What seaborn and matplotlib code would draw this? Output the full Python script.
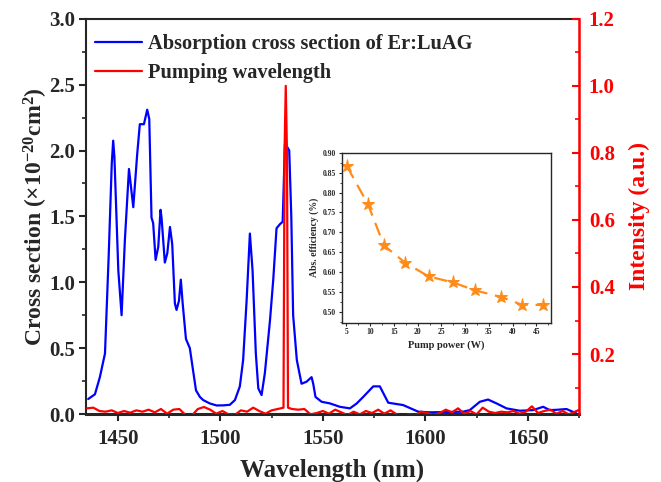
import matplotlib
matplotlib.use("Agg")
import matplotlib.pyplot as plt
from matplotlib.ticker import MultipleLocator, FixedLocator
import seaborn as sns

# absorption cross section of Er:LuAG (x1e-20 cm^2)
blue_wl = [1435.5, 1438.8, 1441.2, 1443.7, 1445.5, 1447.0, 1447.7, 1448.3, 1450.2, 1451.8,
           1453.4, 1455.4, 1457.5, 1459.4, 1460.7, 1462.7, 1464.3, 1465.3, 1466.4, 1467.2,
           1468.4, 1469.7, 1470.8, 1471.3, 1472.9, 1474.1, 1475.4, 1476.5, 1477.8, 1478.6,
           1479.8, 1480.7, 1481.6, 1483.2, 1485.1, 1486.4, 1488.1, 1490.0, 1491.6, 1494.9,
           1498.2, 1501.5, 1504.6, 1507.1, 1509.5, 1511.1, 1512.8, 1514.4, 1515.7, 1517.3,
           1518.5, 1520.1, 1521.7, 1524.2, 1525.8, 1527.4, 1529.0, 1530.4, 1531.5, 1532.5,
           1533.6, 1534.6, 1535.5, 1537.3, 1539.6, 1542.0, 1544.5, 1545.3, 1546.4, 1549.4,
           1553.4, 1558.3, 1563.2, 1566.5, 1569.7, 1574.6, 1577.8, 1581.9, 1589.2, 1596.5,
           1602.2, 1610.0, 1618.5, 1621.7, 1626.6, 1630.6, 1634.7, 1639.6, 1646.1, 1652.6,
           1657.5, 1660.7, 1664.0, 1668.9, 1673.7]
blue_cs = [0.114, 0.15, 0.28, 0.46, 1.2, 1.9, 2.075, 1.95, 1.09, 0.75,
           1.32, 1.86, 1.57, 1.97, 2.20, 2.20, 2.31, 2.24, 1.49, 1.45,
           1.17, 1.27, 1.55, 1.49, 1.15, 1.22, 1.42, 1.29, 0.84, 0.79,
           0.86, 1.02, 0.84, 0.57, 0.50, 0.36, 0.18, 0.13, 0.106, 0.08,
           0.065, 0.066, 0.07, 0.106, 0.21, 0.41, 0.86, 1.37, 1.09, 0.46,
           0.195, 0.144, 0.31, 0.71, 1.02, 1.41, 1.44, 1.46, 2.05, 2.03,
           2.0, 1.5, 0.75, 0.41, 0.23, 0.245, 0.28, 0.23, 0.13, 0.093,
           0.081, 0.055, 0.043, 0.08, 0.13, 0.21, 0.21, 0.086, 0.068, 0.018,
           0.013, 0.015, 0.018, 0.03, 0.093, 0.11, 0.081, 0.043, 0.025, 0.03,
           0.055, 0.03, 0.032, 0.038, 0.005]

# pump laser spectrum (normalized)
red_wl = [1435, 1438, 1441, 1444, 1447, 1450, 1453, 1456, 1459, 1462,
          1465, 1468, 1471, 1474, 1477, 1480, 1483, 1486, 1489, 1492,
          1495, 1498, 1501, 1504, 1507, 1510, 1513, 1516, 1519, 1522,
          1525, 1528, 1530.8, 1531.3, 1531.9, 1532.5, 1533.0, 1535, 1538, 1541,
          1544, 1547, 1550, 1553, 1556, 1559, 1562, 1565, 1568, 1571,
          1574, 1577, 1580, 1583, 1586, 1589, 1592, 1595, 1598, 1601,
          1604, 1607, 1610, 1613, 1616, 1619, 1622, 1625, 1628, 1631,
          1634, 1637, 1640, 1643, 1646, 1649, 1652, 1655, 1658, 1661,
          1664, 1667, 1670, 1673, 1676]
red_int = [0.038, 0.040, 0.030, 0.028, 0.032, 0.024, 0.030, 0.025, 0.032, 0.028,
           0.034, 0.026, 0.036, 0.022, 0.034, 0.036, 0.018, 0.016, 0.036, 0.042,
           0.034, 0.022, 0.030, 0.020, 0.018, 0.032, 0.028, 0.040, 0.030, 0.022,
           0.032, 0.036, 0.040, 0.80, 1.0, 0.80, 0.040, 0.036, 0.034, 0.036,
           0.020, 0.024, 0.030, 0.022, 0.034, 0.026, 0.018, 0.028, 0.020, 0.030,
           0.024, 0.034, 0.022, 0.032, 0.020, 0.016, 0.020, 0.018, 0.028, 0.024,
           0.018, 0.024, 0.034, 0.026, 0.038, 0.022, 0.030, 0.020, 0.040, 0.028,
           0.024, 0.028, 0.026, 0.030, 0.022, 0.028, 0.044, 0.024, 0.030, 0.034,
           0.022, 0.030, 0.020, 0.028, 0.036]

# inset: absorption efficiency vs pump power
pump_w = [5.1, 9.5, 12.9, 17.3, 22.3, 27.4, 32.1, 37.6, 41.9, 46.5]
abs_eff = [0.866, 0.771, 0.667, 0.624, 0.589, 0.574, 0.554, 0.537, 0.518, 0.517]

sns.set_style("ticks")
plt.rcParams["font.family"] = ["Liberation Serif", "DejaVu Serif"]
plt.rcParams["font.weight"] = "bold"
plt.rcParams["mathtext.fontset"] = "custom"
plt.rcParams["mathtext.rm"] = "Liberation Serif:bold"
plt.rcParams["mathtext.bf"] = "Liberation Serif:bold"
plt.rcParams["mathtext.it"] = "Liberation Serif:bold:italic"

fig = plt.figure(figsize=(6.61, 4.82), dpi=100)
ax = fig.add_axes([0.130, 0.141, 0.746, 0.820])

sns.lineplot(x=blue_wl, y=blue_cs, ax=ax, color="#0000ff", lw=1.6,
             label="Absorption cross section of Er:LuAG")
ax.set_xlim(1434.4, 1675)
ax.set_ylim(0, 3.0)
ax.xaxis.set_major_locator(MultipleLocator(50))
ax.xaxis.set_minor_locator(MultipleLocator(25))
ax.yaxis.set_major_locator(MultipleLocator(0.5))
ax.yaxis.set_minor_locator(MultipleLocator(0.25))
ax.set_yticklabels([f"{v:.1f}" for v in ax.get_yticks()])
ax.tick_params(axis="both", which="major", direction="out", length=5, width=1.5,
               labelsize=15, pad=3)
ax.tick_params(axis="x", which="major", pad=6)
ax.tick_params(axis="both", which="minor", direction="out", length=3, width=1.2)
ax.tick_params(axis="y", which="both", right=False)
ax.tick_params(axis="x", which="both", top=False)
for s in ["left", "top"]:
    ax.spines[s].set_linewidth(1.5)
ax.spines["bottom"].set_linewidth(2.2)
ax.set_xlabel("Wavelength (nm)", fontsize=18, fontweight="bold", labelpad=7)
ax.set_ylabel("Cross section (\u00d710$^{-20}$cm$^{2}$)", fontsize=17,
              fontweight="bold", labelpad=-1)

ax2 = ax.twinx()
sns.lineplot(x=red_wl, y=red_int, ax=ax2, color="#ff0000", lw=1.6,
             label="Pumping wavelength")
ax2.set_ylim(0.021, 1.2)
ax2.yaxis.set_major_locator(FixedLocator([0.2, 0.4, 0.6, 0.8, 1.0, 1.2]))
ax2.yaxis.set_minor_locator(FixedLocator([0.1, 0.3, 0.5, 0.7, 0.9, 1.1]))
ax2.set_yticklabels(["0.2", "0.4", "0.6", "0.8", "1.0", "1.2"])
ax2.tick_params(axis="y", which="major", direction="in", length=5, width=1.5,
                colors="#ff0000", labelsize=15, pad=7)
ax2.tick_params(axis="y", which="minor", direction="in", length=3, width=1.2,
                colors="#ff0000")
ax2.spines["right"].set_color("#ff0000")
ax2.spines["right"].set_linewidth(1.8)
ax2.spines["left"].set_visible(False)
ax2.spines["top"].set_visible(False)
ax2.spines["bottom"].set_visible(False)
ax2.set_ylabel("Intensity (a.u.)", fontsize=17, fontweight="bold",
               color="#ff0000", labelpad=10)

for a in (ax, ax2):
    if a.get_legend() is not None:
        a.get_legend().remove()
h1, l1 = ax.get_legend_handles_labels()
h2, l2 = ax2.get_legend_handles_labels()
ax2.legend(h1 + h2, l1 + l2, loc="upper left", bbox_to_anchor=(-0.01, 0.998),
           frameon=False, handlelength=2.3, handletextpad=0.3,
           labelspacing=0.45, borderaxespad=0.3, prop={"weight": "bold", "size": 14.7})

# inset
axin = fig.add_axes([0.517, 0.330, 0.316, 0.353])
sns.lineplot(x=pump_w, y=abs_eff, ax=axin, color="#ff8c1a", lw=1.6,
             linestyle=(0, (6, 3.5)), marker="*", markersize=9.5,
             markeredgecolor="#ff8c1a")
axin.set_xlim(4, 48)
axin.set_ylim(0.472, 0.90)
axin.xaxis.set_major_locator(MultipleLocator(5))
axin.xaxis.set_minor_locator(MultipleLocator(2.5))
axin.yaxis.set_major_locator(MultipleLocator(0.05))
axin.yaxis.set_minor_locator(MultipleLocator(0.025))
axin.set_yticklabels([f"{v:.2f}" for v in axin.get_yticks()])
axin.tick_params(axis="both", which="major", direction="out", length=2.5,
                 width=0.8, labelsize=5.5, pad=1.5)
axin.tick_params(axis="both", which="minor", direction="out", length=1.5, width=0.6)
for s in axin.spines.values():
    s.set_linewidth(1.0)
axin.set_xlabel("Pump power (W)", fontsize=7.5, fontweight="bold", labelpad=3)
axin.set_ylabel("Abs. efficiency (%)", fontsize=7, fontweight="bold", labelpad=3)

fig.savefig("out.png", dpi=100)
